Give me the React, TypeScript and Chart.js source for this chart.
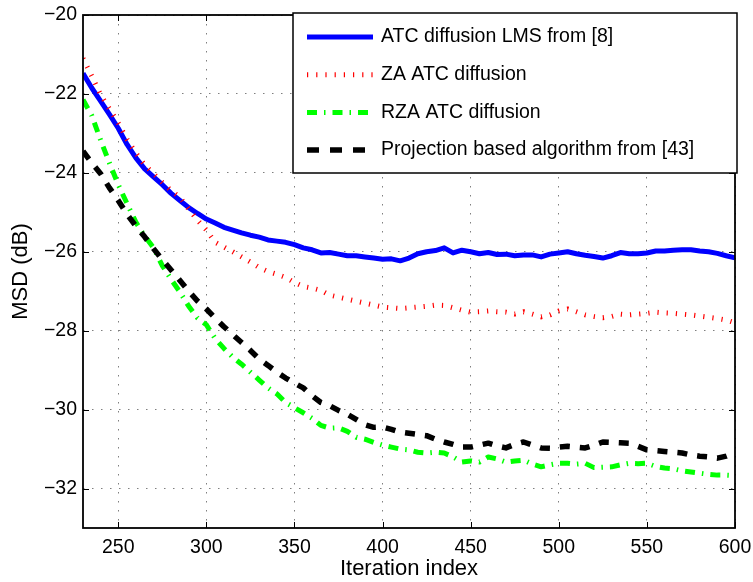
import React, { useEffect, useRef } from "react";
import { Chart, registerables } from "chart.js";

Chart.register(...registerables);

const iterations = [
  230, 235, 240, 245, 250, 255, 260, 265, 270, 275, 280, 285, 290, 295, 300,
  305, 310, 315, 320, 325, 330, 335, 340, 345, 350, 355, 360, 365, 370, 375,
  380, 385, 390, 395, 400, 405, 410, 415, 420, 425, 430, 435, 440, 445, 450,
  455, 460, 465, 470, 475, 480, 485, 490, 495, 500, 505, 510, 515, 520, 525,
  530, 535, 540, 545, 550, 555, 560, 565, 570, 575, 580, 585, 590, 595, 600,
];

const atcLms = [
  -21.48, -21.85, -22.18, -22.52, -22.87, -23.28, -23.62, -23.9, -24.1, -24.3,
  -24.52, -24.7, -24.88, -25.03, -25.17, -25.27, -25.38, -25.45, -25.52, -25.58,
  -25.63, -25.7, -25.73, -25.76, -25.82, -25.9, -25.95, -26.03, -26.02, -26.06,
  -26.1, -26.1, -26.13, -26.16, -26.19, -26.18, -26.23, -26.16, -26.05, -26.0,
  -25.97, -25.9, -26.03, -25.96, -26.0, -26.05, -26.02, -26.07, -26.06, -26.1,
  -26.08, -26.08, -26.13, -26.06, -26.03, -26.0, -26.05, -26.09, -26.12, -26.16,
  -26.1, -26.02, -26.05, -26.05, -26.03, -25.98, -25.98, -25.96, -25.95, -25.95,
  -25.98, -26.0, -26.04, -26.1, -26.15,
];

const zaAtc = [
  -21.1, -21.55, -22.02, -22.38, -22.74, -23.15, -23.5, -23.8, -24.02, -24.24,
  -24.45, -24.62, -24.92, -25.2, -25.45, -25.76, -25.88, -26.0, -26.13, -26.26,
  -26.4, -26.5, -26.57, -26.65, -26.78, -26.88, -26.92, -26.98, -27.1, -27.15,
  -27.2, -27.25, -27.3, -27.35, -27.4, -27.42, -27.44, -27.42, -27.4, -27.38,
  -27.35, -27.36, -27.42, -27.48, -27.53, -27.52, -27.5, -27.52, -27.53, -27.58,
  -27.52, -27.58, -27.65, -27.6, -27.5, -27.45, -27.52, -27.6, -27.64, -27.67,
  -27.64, -27.58, -27.6, -27.58, -27.56, -27.53, -27.55, -27.56, -27.58, -27.6,
  -27.63, -27.66, -27.69, -27.73, -27.8,
];

const rzaAtc = [
  -22.15, -22.55, -23.17, -23.75, -24.3, -24.78, -25.25, -25.6, -25.9, -26.35,
  -26.7, -27.02, -27.38, -27.68, -27.85, -28.2, -28.45, -28.67, -28.85, -29.05,
  -29.25, -29.45, -29.6, -29.82, -29.95, -30.08, -30.22, -30.4, -30.47, -30.46,
  -30.55, -30.7, -30.75, -30.83, -30.9, -30.95, -31.0, -31.02, -31.08, -31.1,
  -31.08, -31.1, -31.2, -31.33, -31.3, -31.33, -31.2, -31.25, -31.33, -31.3,
  -31.28, -31.38, -31.45, -31.4, -31.36, -31.36, -31.38, -31.36, -31.47, -31.46,
  -31.45, -31.4, -31.36, -31.37, -31.36, -31.44, -31.48, -31.5, -31.55, -31.58,
  -31.61, -31.64, -31.66, -31.66, -31.67,
];

const projection = [
  -23.45, -23.75, -24.02, -24.38, -24.7, -25.05, -25.35, -25.62, -25.92, -26.2,
  -26.46, -26.73, -27.0, -27.25, -27.45, -27.68, -27.9, -28.1, -28.3, -28.5,
  -28.72, -28.88, -29.05, -29.2, -29.33, -29.45, -29.65, -29.82, -29.9, -30.02,
  -30.12, -30.25, -30.38, -30.45, -30.44, -30.5, -30.57, -30.6, -30.63, -30.66,
  -30.75, -30.82, -30.88, -30.95, -30.95, -30.9, -30.85, -30.92, -30.97, -30.88,
  -30.82, -30.9, -30.97, -30.98, -30.95, -30.93, -30.95, -30.97, -30.9, -30.82,
  -30.83, -30.84, -30.85, -30.93, -31.02, -31.04, -31.06, -31.08, -31.1, -31.15,
  -31.18, -31.2, -31.23, -31.18, -31.1,
];

const seriesLabels = [
  "ATC diffusion LMS from [8]",
  "ZA ATC diffusion",
  "RZA ATC diffusion",
  "Projection based algorithm from [43]",
];

const xTickValues = [250, 300, 350, 400, 450, 500, 550, 600];
const yTickValues = [-32, -30, -28, -26, -24, -22, -20];
const xRange = [230, 600];
const yRange = [-33, -20];
const xTitle = "Iteration index";
const yTitle = "MSD (dB)";

const FONT = "'Liberation Sans', Arial, Helvetica, sans-serif";

const styles = [
  { color: "#0000ff", width: 5, dash: [] as number[] },
  { color: "#ff0000", width: 5, dash: [1.2, 8] },
  { color: "#00ff00", width: 5, dash: [10, 7, 1.5, 7] },
  { color: "#000000", width: 5.5, dash: [10, 10] },
];

const framePlugin = {
  id: "frame",
  afterDatasetsDraw(chart: any) {
    const { ctx, chartArea: a, scales } = chart;
    const x = scales.x;
    const y = scales.y;
    ctx.save();
    ctx.strokeStyle = "#000";
    ctx.lineWidth = 1;
    const tl = 6;
    ctx.beginPath();
    for (const v of xTickValues) {
      const px = Math.round(x.getPixelForValue(v)) + 0.5;
      ctx.moveTo(px, a.bottom);
      ctx.lineTo(px, a.bottom - tl);
      ctx.moveTo(px, a.top);
      ctx.lineTo(px, a.top + tl);
    }
    for (const v of yTickValues) {
      const py = Math.round(y.getPixelForValue(v)) + 0.5;
      ctx.moveTo(a.left, py);
      ctx.lineTo(a.left + tl, py);
      ctx.moveTo(a.right, py);
      ctx.lineTo(a.right - tl, py);
    }
    ctx.stroke();
    ctx.lineWidth = 1.8;
    ctx.strokeRect(a.left, a.top, a.right - a.left, a.bottom - a.top);

    // legend
    const bl = a.right - 442;
    const bt = a.top - 2;
    const bw = 444;
    const bh = 160;
    ctx.fillStyle = "#fff";
    ctx.fillRect(bl, bt, bw, bh);
    ctx.lineWidth = 1.5;
    ctx.strokeStyle = "#000";
    ctx.strokeRect(bl, bt, bw, bh);
    ctx.font = `19.5px ${FONT}`;
    ctx.textBaseline = "middle";
    ctx.textAlign = "left";
    seriesLabels.forEach((label, i) => {
      const ry = bt + 24 + i * 37.7;
      const s = styles[i];
      ctx.save();
      ctx.strokeStyle = s.color;
      ctx.lineWidth = s.width;
      ctx.lineCap = "butt";
      ctx.setLineDash(i === 3 ? [12, 11] : s.dash);
      ctx.beginPath();
      ctx.moveTo(bl + 14, ry);
      ctx.lineTo(bl + 80, ry);
      ctx.stroke();
      ctx.restore();
      ctx.fillStyle = "#000";
      ctx.fillText(label, bl + 88, ry);
    });
    ctx.restore();
  },
};

export default function App() {
  const ref = useRef<HTMLCanvasElement | null>(null);
  useEffect(() => {
    if (!ref.current) return;
    const series = [atcLms, zaAtc, rzaAtc, projection];
    const chart = new Chart(ref.current, {
      type: "line",
      data: {
        datasets: series.map((vals, i) => ({
          label: seriesLabels[i],
          data: iterations.map((it, j) => ({ x: it, y: vals[j] })),
          borderColor: styles[i].color,
          backgroundColor: styles[i].color,
          borderWidth: styles[i].width,
          borderDash: styles[i].dash,
          borderCapStyle: "butt" as const,
          borderJoinStyle: "round" as const,
          pointRadius: 0,
          tension: 0,
          fill: false,
          order: 4 - i,
        })),
      },
      options: {
        animation: false,
        responsive: false,
        devicePixelRatio: 1,
        layout: { padding: { top: 15, right: 18, left: 0, bottom: 0 } },
        plugins: { legend: { display: false }, tooltip: { enabled: false } },
        scales: {
          x: {
            type: "linear",
            min: xRange[0],
            max: xRange[1],
            afterBuildTicks: (s: any) => {
              s.ticks = xTickValues.map((v) => ({ value: v }));
            },
            afterFit: (s: any) => {
              s.height = 54;
              s.paddingLeft = 0;
              s.paddingRight = 0;
            },
            ticks: {
              color: "#000",
              font: { family: FONT, size: 19.5 },
              padding: 8,
              maxRotation: 0,
              autoSkip: false,
            },
            grid: { color: "rgba(0,0,0,0.5)", lineWidth: 1, drawTicks: false },
            border: { display: false, dash: [1.5, 7.5] },
            title: {
              display: true,
              text: xTitle,
              color: "#000",
              font: { family: FONT, size: 22 },
              padding: 0,
            },
          },
          y: {
            type: "linear",
            min: yRange[0],
            max: yRange[1],
            afterBuildTicks: (s: any) => {
              s.ticks = yTickValues.map((v) => ({ value: v }));
            },
            afterFit: (s: any) => {
              s.width = 83;
              s.paddingTop = 0;
              s.paddingBottom = 0;
            },
            ticks: {
              color: "#000",
              font: { family: FONT, size: 19.5 },
              padding: 6,
              autoSkip: false,
              callback: (v: any) => String(v).replace("-", "\u2212"),
            },
            grid: { color: "rgba(0,0,0,0.5)", lineWidth: 1, drawTicks: false },
            border: { display: false, dash: [1.5, 7.5] },
            title: {
              display: true,
              text: yTitle,
              color: "#000",
              font: { family: FONT, size: 22 },
              padding: { top: 8, bottom: 0 },
            },
          },
        },
      },
      plugins: [framePlugin],
    });
    return () => chart.destroy();
  }, []);
  return (
    <div style={{ position: "absolute", left: 0, top: 0, width: 753, height: 582, background: "#fff" }}>
      <canvas ref={ref} width={753} height={582} style={{ width: 753, height: 582, display: "block" }} />
    </div>
  );
}
